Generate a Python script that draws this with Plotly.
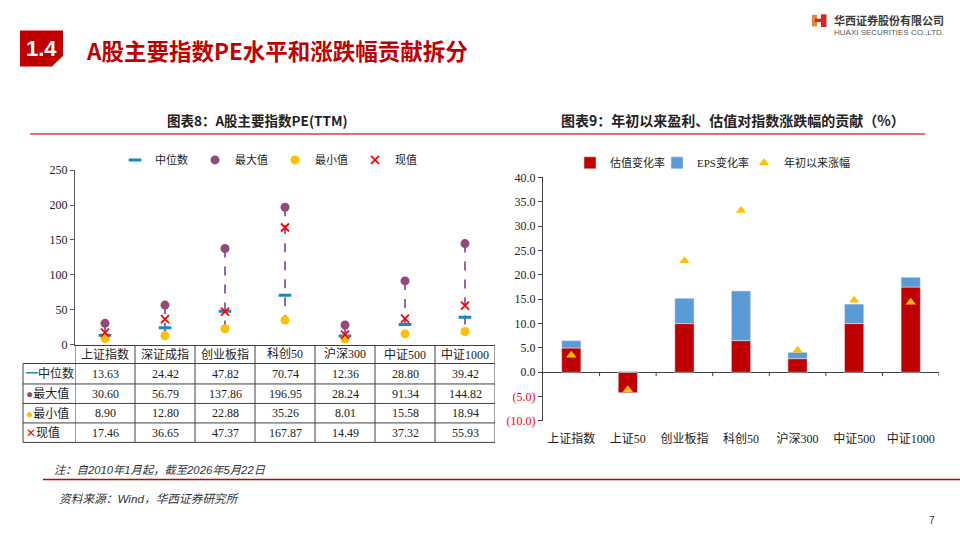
import plotly.graph_objects as go

# ---------------- data ----------------
pe_cats = ['上证指数', '深证成指', '创业板指', '科创50', '沪深300', '中证500', '中证1000']
pe_median = [13.63, 24.42, 47.82, 70.74, 12.36, 28.80, 39.42]
pe_max = [30.60, 56.79, 137.86, 196.95, 28.24, 91.34, 144.82]
pe_min = [8.90, 12.80, 22.88, 35.26, 8.01, 15.58, 18.94]
pe_now = [17.46, 36.65, 47.37, 167.87, 14.49, 37.32, 55.93]
pe_ticks = [0, 50, 100, 150, 200, 250]

ct_cats = ['上证指数', '上证50', '创业板指', '科创50', '沪深300', '中证500', '中证1000']
val_change = [5.0, -4.2, 10.0, 6.5, 2.8, 10.0, 17.5]
eps_change = [1.5, 0.2, 5.2, 10.2, 1.3, 4.0, 2.0]
ytd_change = [3.5, -3.6, 22.9, 33.2, 4.5, 14.8, 14.4]
ct_ticks = [-10, -5, 0, 5, 10, 15, 20, 25, 30, 35, 40]

# ---------------- styles ----------------
W, H = 960, 540
def px(x):
    return x / W
def py(y):
    return 1 - y / H

SERIF = 'Liberation Serif, Noto Sans CJK SC'
CJK = 'Noto Sans CJK SC'
C_MED = '#1B86BF'
C_MAX = '#934A7B'
C_MIN = '#FFC000'
C_NOW = '#FF0000'
C_HL = '#7030A0'
C_RED = '#C00000'
C_BLUE = '#5B9BD5'
TXT = '#222222'

fig = go.Figure()

# ---------------- left chart ----------------
hl_x, hl_y = [], []
for c, hi, lo in zip(pe_cats, pe_max, pe_min):
    hl_x += [c, c, None]
    hl_y += [hi, lo, None]
fig.add_trace(go.Scatter(x=hl_x, y=hl_y, mode='lines', showlegend=False, hoverinfo='skip',
                         line=dict(color=C_HL, width=1.5, dash='dash'), xaxis='x', yaxis='y'))
fig.add_trace(go.Scatter(x=pe_cats, y=pe_median, mode='markers', name='中位数',
                         marker=dict(symbol='line-ew', size=9, line=dict(color=C_MED, width=3)),
                         xaxis='x', yaxis='y', legend='legend'))
fig.add_trace(go.Scatter(x=pe_cats, y=pe_max, mode='markers', name='最大值',
                         marker=dict(symbol='circle', size=9, color=C_MAX),
                         xaxis='x', yaxis='y', legend='legend'))
fig.add_trace(go.Scatter(x=pe_cats, y=pe_min, mode='markers', name='最小值',
                         marker=dict(symbol='circle', size=9, color=C_MIN),
                         xaxis='x', yaxis='y', legend='legend'))
fig.add_trace(go.Scatter(x=pe_cats, y=pe_now, mode='markers', name='现值',
                         marker=dict(symbol='x-thin', size=8, line=dict(color=C_NOW, width=1.8)),
                         xaxis='x', yaxis='y', legend='legend'))

# ---------------- right chart ----------------
fig.add_trace(go.Bar(x=ct_cats, y=val_change, name='估值变化率', marker=dict(color=C_RED),
                     xaxis='x2', yaxis='y2', legend='legend2'))
fig.add_trace(go.Bar(x=ct_cats, y=eps_change, name='EPS变化率', marker=dict(color=C_BLUE),
                     xaxis='x2', yaxis='y2', legend='legend2'))
fig.add_trace(go.Scatter(x=ct_cats, y=ytd_change, mode='markers', name='年初以来涨幅',
                         marker=dict(symbol='triangle-up', size=9, color=C_MIN),
                         xaxis='x2', yaxis='y2', legend='legend2'))
# empty spacer entry so the last legend label is not clipped
fig.add_trace(go.Scatter(x=[None], y=[None], mode='markers', name=' ', hoverinfo='skip',
                         marker=dict(color='rgba(0,0,0,0)'), xaxis='x2', yaxis='y2', legend='legend2'))

ct_ticktext = [f'{v:.1f}' if v >= 0 else f'<span style="color:#FF0000">({abs(v):.1f})</span>'
               for v in ct_ticks]

shapes = []
annotations = []

# table grid (left chart)
row_tops = [366, 387, 407, 427, 447]
for yy in row_tops:
    shapes.append(dict(type='line', xref='paper', yref='paper', x0=px(23), x1=px(495),
                       y0=py(yy), y1=py(yy), line=dict(color='#404040', width=1)))
shapes.append(dict(type='line', xref='paper', yref='paper', x0=px(23), x1=px(23),
                   y0=py(366), y1=py(447), line=dict(color='#404040', width=1)))
for i in range(-1, len(pe_cats)):
    shapes.append(dict(type='line', xref='x', yref='paper', x0=i + 0.5, x1=i + 0.5,
                       y0=py(347), y1=py(447), line=dict(color='#404040', width=1)))

# table text
for i, c in enumerate(pe_cats):
    annotations.append(dict(xref='x', yref='paper', x=i, y=py(356.5), text=c, showarrow=False,
                            font=dict(family=SERIF, size=12, color=TXT), xanchor='center', yanchor='middle'))
rows = [
    (f'<span style="color:{C_MED}">━</span>中位数', pe_median),
    (f'<span style="color:{C_MAX}">●</span>最大值', pe_max),
    (f'<span style="color:{C_MIN}">●</span>最小值', pe_min),
    (f'<span style="color:{C_NOW}">✕</span>现值', pe_now),
]
for r, (label, vals) in enumerate(rows):
    yc = (row_tops[r] + row_tops[r + 1]) / 2
    annotations.append(dict(xref='paper', yref='paper', x=px(24), y=py(yc), text=label, showarrow=False,
                            font=dict(family=SERIF, size=12, color=TXT), xanchor='left', yanchor='middle'))
    for i, v in enumerate(vals):
        annotations.append(dict(xref='x', yref='paper', x=i, y=py(yc), text=f'{v:.2f}', showarrow=False,
                                font=dict(family=SERIF, size=12, color=TXT), xanchor='center', yanchor='middle'))

# right chart tick marks on zero line
for i in range(len(ct_cats)):
    shapes.append(dict(type='line', xref='x2', yref='y2', x0=i + 0.5, x1=i + 0.5, y0=0, y1=-0.8,
                       line=dict(color='#404040', width=1)))

# header / decorations
shapes.append(dict(type='path', xref='paper', yref='paper',
                   path=f'M {px(20)},{py(24)} L {px(63)},{py(24)} L {px(63)},{py(50)} '
                        f'L {px(52)},{py(61)} L {px(20)},{py(61)} Z',
                   fillcolor=C_RED, line=dict(width=0)))
annotations.append(dict(xref='paper', yref='paper', x=px(41), y=py(43), text='<b>1.4</b>', showarrow=False,
                        font=dict(family='Liberation Sans, Arial', size=22, color='white'),
                        xanchor='center', yanchor='middle'))
annotations.append(dict(xref='paper', yref='paper', x=px(84), y=py(44), text='<b>A股主要指数PE水平和涨跌幅贡献拆分</b>',
                        showarrow=False, font=dict(family=CJK, size=22.5, color=C_RED),
                        xanchor='left', yanchor='middle'))

# logo
shapes.append(dict(type='rect', xref='paper', yref='paper', x0=px(812), x1=px(817), y0=py(20), y1=py(8),
                   fillcolor='#E8833A', line=dict(width=0)))
shapes.append(dict(type='rect', xref='paper', yref='paper', x0=px(821), x1=px(826.5), y0=py(20.5), y1=py(7.5),
                   fillcolor='#D7261E', line=dict(width=0)))
shapes.append(dict(type='path', xref='paper', yref='paper',
                   path=f'M {px(815)},{py(12)} L {px(823)},{py(12)} L {px(823)},{py(15.5)} L {px(815)},{py(15.5)} Z',
                   fillcolor='#D7261E', line=dict(width=0)))
annotations.append(dict(xref='paper', yref='paper', x=px(832), y=py(13.5), text='<b>华西证券股份有限公司</b>',
                        showarrow=False, font=dict(family=CJK, size=11, color='#3a3a3a'),
                        xanchor='left', yanchor='middle'))
annotations.append(dict(xref='paper', yref='paper', x=px(832), y=py(26), text='HUAXI SECURITIES CO.,LTD.',
                        showarrow=False, font=dict(family='Liberation Sans, Arial', size=8, color='#555555'),
                        xanchor='left', yanchor='middle'))

# chart titles
annotations.append(dict(xref='paper', yref='paper', x=px(257), y=py(116), text='<b>图表8：A股主要指数PE(TTM)</b>',
                        showarrow=False, font=dict(family=CJK, size=13.5, color=TXT),
                        xanchor='center', yanchor='middle'))
annotations.append(dict(xref='paper', yref='paper', x=px(733), y=py(116),
                        text='<b>图表9：年初以来盈利、估值对指数涨跌幅的贡献（%）</b>',
                        showarrow=False, font=dict(family=CJK, size=14, color=TXT),
                        xanchor='center', yanchor='middle'))
shapes.append(dict(type='line', xref='paper', yref='paper', x0=px(30), x1=px(480), y0=py(130.5), y1=py(130.5),
                   line=dict(color='#DE7272', width=2)))
shapes.append(dict(type='line', xref='paper', yref='paper', x0=px(480), x1=px(925), y0=py(130.5), y1=py(130.5),
                   line=dict(color='#DE7272', width=2)))

# footnotes
annotations.append(dict(xref='paper', yref='paper', x=px(52), y=py(475.5), text='<i>注：自2010年1月起，截至2026年5月22日</i>',
                        showarrow=False, font=dict(family='Liberation Sans, Noto Sans CJK SC', size=11.3, color='#333333'),
                        xanchor='left', yanchor='middle'))
shapes.append(dict(type='line', xref='paper', yref='paper', x0=px(43), x1=px(960), y0=py(485), y1=py(485),
                   line=dict(color='#CC0000', width=1.5)))
annotations.append(dict(xref='paper', yref='paper', x=px(57), y=py(504.5), text='<i>资料来源：Wind，华西证券研究所</i>',
                        showarrow=False, font=dict(family='Liberation Sans, Noto Sans CJK SC', size=11.7, color='#333333'),
                        xanchor='left', yanchor='middle'))
annotations.append(dict(xref='paper', yref='paper', x=px(932), y=py(527), text='7',
                        showarrow=False, font=dict(family='Liberation Sans, Arial', size=10, color='#333333'),
                        xanchor='center', yanchor='middle'))

fig.update_layout(
    width=W, height=H,
    margin=dict(l=0, r=0, t=0, b=0),
    paper_bgcolor='white', plot_bgcolor='white',
    barmode='relative', bargap=0.66,
    font=dict(family=SERIF, size=12, color=TXT),
    xaxis=dict(domain=[px(75), px(495)], type='category', categoryarray=pe_cats, range=[-0.5, 6.5],
               showticklabels=False, ticks='', showline=True, linecolor='#404040', linewidth=1,
               showgrid=False, zeroline=False, anchor='y'),
    yaxis=dict(domain=[py(346.7), py(167.5)], range=[0, 250], tickvals=pe_ticks, showgrid=False,
               zeroline=False, showline=True, linecolor='#595959', linewidth=1, ticks='outside', ticklen=4,
               tickcolor='#595959', tickfont=dict(family=SERIF, size=12, color=TXT), anchor='x'),
    xaxis2=dict(domain=[px(543), px(939)], type='category', categoryarray=ct_cats, range=[-0.5, 6.5],
                showline=False, ticks='', showgrid=False, zeroline=False, anchor='y2',
                ticklabelstandoff=9,
                tickfont=dict(family=SERIF, size=12, color=TXT)),
    yaxis2=dict(domain=[py(425), py(175)], range=[-10, 40], tickvals=ct_ticks, ticktext=ct_ticktext,
                showgrid=False, zeroline=True, zerolinecolor='#404040', zerolinewidth=1,
                showline=True, linecolor='#404040', linewidth=1, ticks='outside', ticklen=4,
                tickcolor='#404040', tickfont=dict(family=SERIF, size=12, color=TXT), anchor='x2'),
    legend=dict(orientation='h', x=px(115), y=py(157), xanchor='left', yanchor='middle',
                entrywidth=35, entrywidthmode='pixels', itemwidth=30, bgcolor='rgba(0,0,0,0)',
                font=dict(family=SERIF, size=11, color=TXT), tracegroupgap=0),
    legend2=dict(orientation='h', x=px(570), y=py(160), xanchor='left', yanchor='middle',
                 entrywidth=42, entrywidthmode='pixels', itemwidth=30, bgcolor='rgba(0,0,0,0)',
                 font=dict(family=SERIF, size=11, color=TXT), tracegroupgap=0),
    shapes=shapes,
    annotations=annotations,
    showlegend=True,
)

fig.write_html('out.html')
